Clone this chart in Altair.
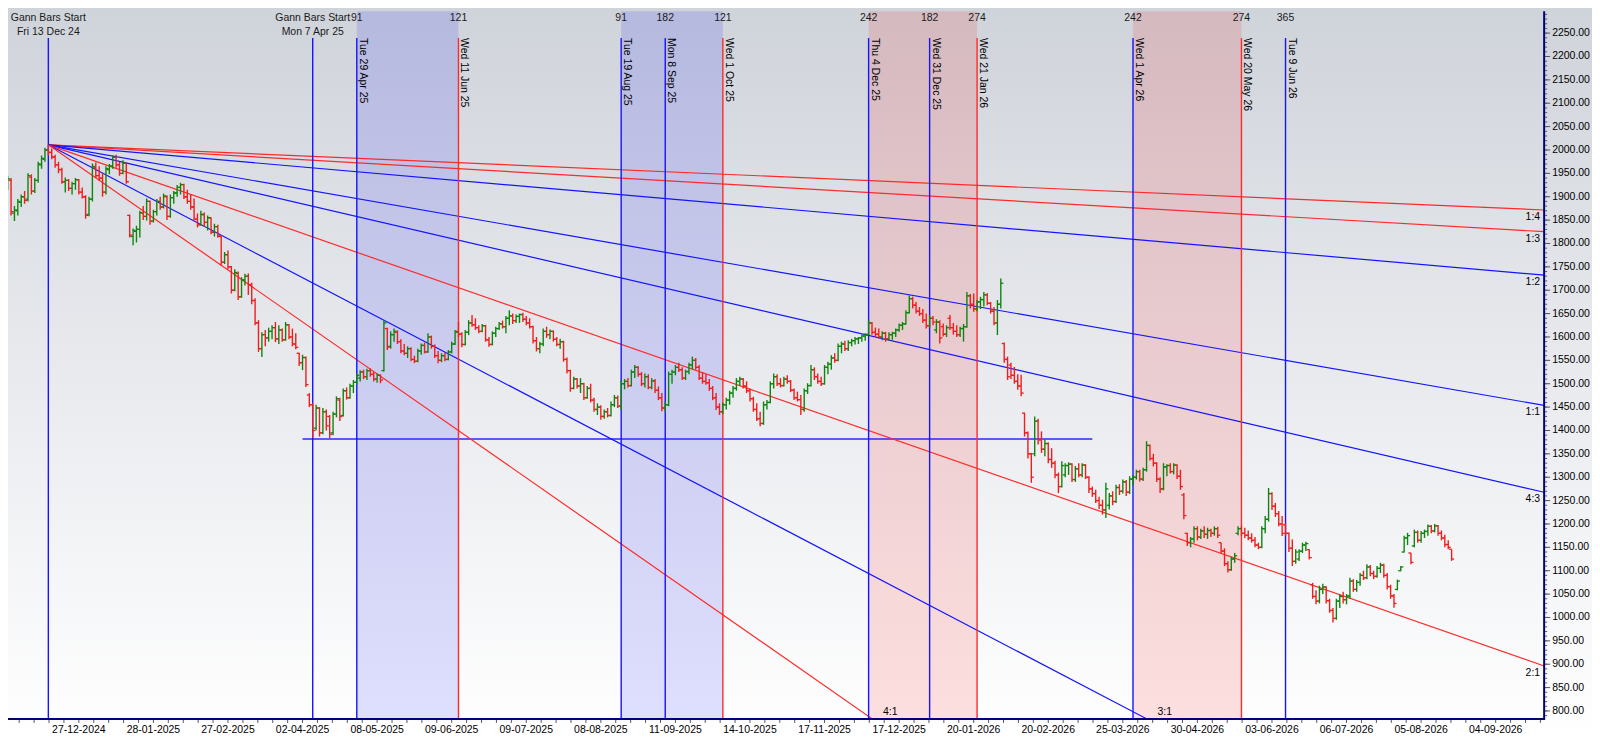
import altair as alt
import pandas as pd

# ---------------- layout ----------------
W, H = 1541, 710
X_DOMAIN = [-11.9, 441.3]      # trading-bar index (0 = Fri 13 Dec 2024)
Y_DOMAIN = [783, 2297]

# ---------------- price bars (daily OHLC, bar index from first_bar) ----------------
first_bar = -14
opens = [
    1905, 1895, 1925, 1935, 1865, 1870, 1888, 1900, 1895, 1942, 1912, 1935, 1968, 1980, 2000,
    1995, 1985, 1968, 1958, 1932, 1935, 1918, 1928, 1936, 1910,
    1900, 1862, 1895, 1962, 1945, 1940, 1910, 1958, 1965, 1984,
    1968, 1950, 1972, 1860, 1815, 1826, 1830, 1865, 1858, 1890,
    1848, 1868, 1890, 1878, 1900, 1858, 1898, 1908, 1920, 1926,
    1900, 1890, 1878, 1852, 1840, 1862, 1845, 1855, 1824, 1836,
    1815, 1760, 1776, 1750, 1700, 1736, 1686, 1722, 1730, 1712,
    1678, 1630, 1575, 1605, 1598, 1612, 1620, 1596, 1615, 1594,
    1626, 1600, 1585, 1565, 1545, 1556, 1476, 1455, 1405, 1448,
    1395, 1440, 1430, 1395, 1435, 1465, 1432, 1485, 1470, 1495,
    1503, 1512, 1525, 1515, 1528, 1520, 1510, 1518, 1528, 1618,
    1580, 1605, 1610, 1590, 1570, 1565, 1575, 1552, 1548, 1570,
    1582, 1568, 1600, 1580, 1560, 1550, 1560, 1552, 1568, 1585,
    1612, 1606, 1584, 1610, 1630, 1626, 1620, 1612, 1624, 1594,
    1584, 1608, 1618, 1628, 1622, 1640, 1645, 1635, 1644, 1648,
    1638, 1630, 1622, 1592, 1575, 1585, 1612, 1605, 1612, 1595,
    1584, 1590, 1552, 1528, 1490, 1510, 1495, 1500, 1470, 1490,
    1465, 1445, 1450, 1430, 1440, 1432, 1455, 1470, 1452, 1500,
    1505, 1496, 1525, 1535, 1520, 1500, 1515, 1492, 1506, 1486,
    1470, 1448, 1455, 1520, 1525, 1535, 1530, 1512, 1526, 1540,
    1550, 1535, 1512, 1505, 1502, 1490, 1470, 1450, 1440, 1455,
    1465, 1480, 1490, 1505, 1510, 1495, 1485, 1468, 1445, 1425,
    1415, 1455, 1460, 1500, 1515, 1500, 1496, 1510, 1505, 1486,
    1470, 1466, 1445, 1485, 1496, 1530, 1515, 1505, 1500, 1535,
    1542, 1555, 1550, 1580, 1585, 1575, 1588, 1592, 1596, 1598,
    1602, 1606, 1630, 1610, 1606, 1600, 1608, 1596, 1605, 1608,
    1615, 1625, 1628, 1652, 1682, 1668, 1655, 1650, 1636, 1624,
    1640, 1615, 1632, 1622, 1606, 1640, 1620, 1612, 1605, 1618,
    1622, 1688, 1670, 1660, 1675, 1680, 1690, 1672, 1655, 1630,
    1670, 1586, 1552, 1540, 1518, 1505, 1495, 1437, 1395, 1350,
    1350, 1420, 1380, 1360, 1372, 1338, 1330, 1305, 1280, 1305,
    1325, 1328, 1295, 1318, 1305, 1326, 1300, 1275, 1265, 1250,
    1240, 1230, 1240, 1260, 1248, 1278, 1270, 1290, 1268, 1296,
    1300, 1312, 1296, 1316, 1368, 1340, 1330, 1296, 1275, 1322,
    1325, 1312, 1326, 1302, 1262, 1180, 1160, 1168, 1190, 1172,
    1185, 1178, 1186, 1180, 1190, 1160, 1142, 1115, 1102, 1125,
    1180, 1190, 1180, 1176, 1170, 1165, 1155, 1150, 1190, 1210,
    1265, 1238, 1222, 1200, 1198, 1180, 1148, 1120, 1125, 1142,
    1155, 1145, 1070, 1045, 1035, 1060, 1065, 1036, 1015, 998,
    1035, 1045, 1038, 1046, 1078, 1060, 1075, 1090, 1085, 1108,
    1094, 1088, 1105, 1112, 1090, 1066, 1046, 1060, 1100, 1140,
    1170, 1138, 1153, 1182, 1165, 1180, 1184, 1195, 1185, 1196,
    1180, 1170, 1156, 1146,
]
highs = [
    1912, 1935, 1945, 1940, 1880, 1895, 1905, 1912, 1950, 1948, 1940, 1975, 1988, 2005, 2011,
    2003, 1990, 1975, 1962, 1941, 1938, 1932, 1940, 1938, 1920,
    1903, 1900, 1971, 1973, 1965, 1950, 1965, 1970, 1988, 1990,
    1975, 1978, 1973, 1862, 1832, 1838, 1870, 1880, 1896, 1892,
    1872, 1895, 1900, 1907, 1903, 1905, 1912, 1925, 1930, 1928,
    1915, 1905, 1896, 1864, 1870, 1866, 1860, 1856, 1842, 1840,
    1818, 1782, 1785, 1752, 1745, 1740, 1728, 1735, 1736, 1716,
    1683, 1636, 1610, 1615, 1620, 1625, 1632, 1625, 1618, 1632,
    1628, 1618, 1608, 1566, 1562, 1558, 1480, 1459, 1455, 1450,
    1448, 1445, 1433, 1440, 1473, 1470, 1490, 1492, 1500, 1508,
    1522, 1529, 1530, 1532, 1533, 1525, 1522, 1520, 1636, 1620,
    1612, 1618, 1614, 1595, 1585, 1580, 1578, 1560, 1575, 1586,
    1588, 1608, 1603, 1584, 1570, 1565, 1566, 1572, 1590, 1615,
    1632, 1610, 1615, 1636, 1647, 1640, 1625, 1628, 1626, 1600,
    1612, 1622, 1632, 1635, 1645, 1657, 1650, 1648, 1650, 1652,
    1645, 1640, 1624, 1600, 1590, 1618, 1622, 1616, 1614, 1600,
    1596, 1592, 1556, 1530, 1515, 1512, 1512, 1502, 1495, 1500,
    1470, 1458, 1454, 1445, 1448, 1462, 1476, 1475, 1508, 1510,
    1512, 1530, 1540, 1538, 1525, 1522, 1520, 1512, 1510, 1494,
    1480, 1462, 1526, 1530, 1540, 1545, 1535, 1530, 1545, 1558,
    1555, 1540, 1525, 1520, 1510, 1495, 1480, 1458, 1460, 1470,
    1485, 1495, 1512, 1515, 1512, 1505, 1490, 1472, 1458, 1440,
    1462, 1465, 1505, 1522, 1520, 1512, 1515, 1518, 1508, 1490,
    1483, 1476, 1490, 1501, 1540, 1535, 1522, 1515, 1540, 1547,
    1561, 1565, 1586, 1590, 1592, 1593, 1596, 1600, 1600, 1605,
    1608, 1636, 1632, 1620, 1618, 1612, 1611, 1610, 1611, 1618,
    1629, 1632, 1657, 1689, 1686, 1675, 1664, 1660, 1650, 1647,
    1645, 1638, 1636, 1629, 1625, 1647, 1630, 1625, 1622, 1628,
    1696, 1692, 1693, 1679, 1686, 1696, 1694, 1675, 1664, 1679,
    1725, 1588, 1558, 1545, 1536, 1520, 1519, 1438, 1398, 1352,
    1430, 1425, 1398, 1380, 1375, 1362, 1335, 1310, 1334, 1330,
    1332, 1330, 1324, 1330, 1330, 1328, 1302, 1280, 1273, 1258,
    1252, 1288, 1266, 1270, 1284, 1285, 1295, 1294, 1302, 1305,
    1316, 1316, 1320, 1377, 1370, 1350, 1332, 1300, 1330, 1328,
    1330, 1330, 1328, 1316, 1266, 1181, 1172, 1195, 1195, 1190,
    1195, 1192, 1190, 1195, 1194, 1160, 1148, 1120, 1130, 1138,
    1195, 1196, 1192, 1186, 1180, 1172, 1160, 1195, 1217, 1277,
    1268, 1245, 1228, 1217, 1202, 1182, 1167, 1146, 1146, 1160,
    1162, 1146, 1074, 1058, 1068, 1072, 1067, 1040, 1020, 1040,
    1050, 1055, 1050, 1085, 1082, 1080, 1095, 1100, 1114, 1112,
    1100, 1110, 1117, 1115, 1095, 1070, 1050, 1081, 1110, 1175,
    1181, 1138, 1188, 1186, 1185, 1188, 1199, 1198, 1200, 1198,
    1186, 1177, 1165, 1146,
]
lows = [
    1888, 1890, 1915, 1860, 1848, 1860, 1878, 1885, 1890, 1905, 1908, 1930, 1960, 1975, 1988,
    1980, 1962, 1950, 1928, 1909, 1912, 1905, 1915, 1905, 1896,
    1853, 1858, 1890, 1940, 1934, 1900, 1905, 1948, 1960, 1962,
    1945, 1948, 1928, 1813, 1796, 1802, 1813, 1850, 1849, 1840,
    1845, 1860, 1872, 1875, 1850, 1855, 1885, 1900, 1905, 1895,
    1885, 1872, 1849, 1834, 1838, 1835, 1828, 1820, 1815, 1812,
    1753, 1756, 1745, 1693, 1698, 1679, 1684, 1710, 1690, 1670,
    1625, 1568, 1557, 1580, 1590, 1595, 1589, 1585, 1590, 1592,
    1595, 1580, 1574, 1538, 1529, 1493, 1450, 1384, 1400, 1387,
    1392, 1400, 1384, 1390, 1428, 1420, 1430, 1466, 1468, 1480,
    1498, 1505, 1510, 1508, 1515, 1505, 1502, 1501, 1526, 1572,
    1575, 1590, 1585, 1565, 1561, 1555, 1548, 1544, 1546, 1562,
    1565, 1566, 1575, 1555, 1544, 1546, 1548, 1550, 1565, 1583,
    1600, 1578, 1582, 1604, 1622, 1615, 1608, 1610, 1590, 1579,
    1582, 1600, 1615, 1618, 1608, 1625, 1628, 1630, 1630, 1632,
    1625, 1618, 1586, 1569, 1565, 1580, 1598, 1595, 1590, 1580,
    1575, 1547, 1522, 1483, 1488, 1490, 1480, 1465, 1468, 1460,
    1440, 1433, 1423, 1425, 1428, 1430, 1450, 1448, 1444, 1488,
    1492, 1494, 1512, 1515, 1495, 1492, 1488, 1488, 1480, 1465,
    1441, 1440, 1452, 1500, 1518, 1525, 1508, 1508, 1520, 1530,
    1530, 1508, 1500, 1498, 1485, 1465, 1444, 1433, 1435, 1445,
    1455, 1470, 1485, 1495, 1490, 1480, 1462, 1440, 1420, 1409,
    1412, 1445, 1458, 1490, 1495, 1492, 1494, 1500, 1482, 1465,
    1462, 1433, 1440, 1478, 1494, 1508, 1500, 1495, 1498, 1520,
    1530, 1545, 1548, 1565, 1570, 1570, 1580, 1584, 1585, 1590,
    1592, 1604, 1605, 1600, 1596, 1593, 1590, 1592, 1594, 1600,
    1611, 1615, 1626, 1650, 1661, 1650, 1645, 1630, 1618, 1620,
    1625, 1608, 1586, 1601, 1600, 1615, 1605, 1600, 1600, 1590,
    1620, 1661, 1654, 1655, 1660, 1665, 1668, 1650, 1625, 1604,
    1661, 1545, 1508, 1510, 1500, 1487, 1473, 1387, 1340, 1288,
    1345, 1370, 1352, 1345, 1330, 1320, 1298, 1266, 1278, 1300,
    1305, 1290, 1290, 1300, 1300, 1296, 1266, 1258, 1245, 1232,
    1220, 1213, 1231, 1240, 1245, 1262, 1265, 1260, 1264, 1282,
    1295, 1291, 1292, 1312, 1336, 1323, 1290, 1266, 1272, 1302,
    1308, 1306, 1296, 1273, 1210, 1153, 1150, 1160, 1165, 1168,
    1170, 1168, 1172, 1175, 1170, 1138, 1110, 1096, 1100, 1117,
    1176, 1174, 1170, 1165, 1160, 1150, 1146, 1148, 1180, 1205,
    1230, 1215, 1195, 1174, 1174, 1140, 1110, 1115, 1121, 1138,
    1142, 1124, 1040, 1028, 1030, 1050, 1030, 1010, 989, 995,
    1020, 1030, 1028, 1040, 1055, 1055, 1068, 1080, 1082, 1088,
    1082, 1085, 1095, 1085, 1060, 1040, 1021, 1058, 1099, 1139,
    1155, 1114, 1150, 1160, 1160, 1170, 1175, 1180, 1182, 1175,
    1165, 1150, 1146, 1121,
]
closes = [
    1892, 1928, 1938, 1868, 1872, 1890, 1900, 1892, 1945, 1912, 1935, 1970, 1982, 2000, 1995,
    1985, 1968, 1958, 1932, 1935, 1918, 1928, 1936, 1910, 1900,
    1860, 1895, 1965, 1945, 1940, 1910, 1960, 1966, 1984, 1968,
    1950, 1972, 1932, 1818, 1828, 1830, 1866, 1858, 1890, 1848,
    1868, 1890, 1878, 1902, 1858, 1898, 1908, 1920, 1926, 1900,
    1890, 1878, 1852, 1840, 1862, 1845, 1855, 1824, 1836, 1816,
    1760, 1776, 1750, 1700, 1738, 1686, 1722, 1730, 1712, 1678,
    1630, 1575, 1605, 1598, 1612, 1620, 1596, 1615, 1594, 1626,
    1600, 1585, 1578, 1545, 1556, 1498, 1455, 1400, 1448, 1395,
    1440, 1410, 1392, 1435, 1468, 1430, 1485, 1470, 1495, 1503,
    1518, 1525, 1515, 1528, 1520, 1510, 1518, 1508, 1630, 1578,
    1605, 1612, 1590, 1570, 1565, 1575, 1552, 1548, 1570, 1582,
    1568, 1600, 1580, 1560, 1550, 1560, 1552, 1568, 1585, 1610,
    1606, 1584, 1610, 1630, 1626, 1620, 1612, 1624, 1594, 1584,
    1608, 1618, 1628, 1622, 1640, 1645, 1635, 1644, 1648, 1638,
    1630, 1622, 1592, 1575, 1585, 1612, 1605, 1612, 1595, 1584,
    1590, 1552, 1528, 1490, 1510, 1495, 1500, 1470, 1490, 1465,
    1445, 1450, 1430, 1440, 1432, 1455, 1470, 1452, 1500, 1505,
    1496, 1525, 1535, 1520, 1500, 1515, 1492, 1506, 1486, 1470,
    1448, 1455, 1520, 1525, 1535, 1530, 1512, 1526, 1540, 1550,
    1535, 1512, 1505, 1502, 1490, 1470, 1450, 1440, 1455, 1465,
    1480, 1490, 1505, 1510, 1495, 1485, 1468, 1445, 1425, 1415,
    1455, 1460, 1500, 1515, 1500, 1496, 1510, 1505, 1486, 1470,
    1466, 1445, 1485, 1496, 1530, 1515, 1505, 1500, 1535, 1542,
    1555, 1550, 1580, 1585, 1575, 1588, 1592, 1596, 1598, 1602,
    1604, 1630, 1610, 1606, 1600, 1608, 1596, 1605, 1608, 1615,
    1625, 1628, 1652, 1682, 1668, 1655, 1650, 1636, 1624, 1640,
    1632, 1632, 1598, 1606, 1620, 1620, 1612, 1605, 1618, 1622,
    1688, 1670, 1660, 1675, 1680, 1690, 1672, 1655, 1630, 1670,
    1715, 1552, 1515, 1518, 1505, 1495, 1480, 1395, 1350, 1300,
    1420, 1380, 1360, 1372, 1338, 1330, 1305, 1280, 1325, 1325,
    1328, 1295, 1318, 1305, 1326, 1300, 1275, 1265, 1250, 1240,
    1230, 1275, 1260, 1248, 1278, 1270, 1290, 1268, 1296, 1300,
    1312, 1296, 1316, 1368, 1340, 1330, 1296, 1275, 1322, 1325,
    1312, 1326, 1302, 1280, 1218, 1160, 1168, 1190, 1172, 1185,
    1178, 1186, 1180, 1190, 1176, 1142, 1115, 1102, 1125, 1132,
    1190, 1180, 1176, 1170, 1165, 1155, 1150, 1190, 1210, 1265,
    1238, 1222, 1200, 1180, 1180, 1148, 1120, 1140, 1142, 1155,
    1158, 1128, 1045, 1035, 1060, 1065, 1036, 1015, 998, 1035,
    1045, 1038, 1046, 1078, 1060, 1075, 1090, 1085, 1108, 1094,
    1088, 1105, 1112, 1090, 1066, 1046, 1030, 1078, 1108, 1170,
    1175, 1118, 1182, 1165, 1180, 1184, 1195, 1185, 1196, 1180,
    1170, 1156, 1150, 1125,
]

# ---------------- x-axis date labels (bar index -> label) ----------------
tick_label_bars = [9, 31, 53, 75, 97, 119, 141, 163, 185, 207,
                   229, 251, 273, 295, 317, 339, 361, 383, 405, 427]
tick_labels = ["27-12-2024", "28-01-2025", "27-02-2025", "02-04-2025", "08-05-2025",
               "09-06-2025", "09-07-2025", "08-08-2025", "11-09-2025", "14-10-2025",
               "17-11-2025", "17-12-2025", "20-01-2026", "20-02-2026", "25-03-2026",
               "30-04-2026", "03-06-2026", "06-07-2026", "05-08-2026", "04-09-2026"]
y_tick_values = list(range(800, 2251, 50))

# ---------------- Gann time counts ----------------
gann_start_bars = [0, 78]
gann_start_dates = ["Fri 13 Dec 24", "Mon 7 Apr 25"]
line_bars = [91, 121, 169, 182, 199, 242, 260, 274, 320, 352, 365]
line_counts = ["91", "121", "91", "182", "121", "242", "182", "274", "242", "274", "365"]
line_dates = ["Tue 29 Apr 25", "Wed 11 Jun 25", "Tue 19 Aug 25", "Mon 8 Sep 25",
              "Wed 1 Oct 25", "Thu 4 Dec 25", "Wed 31 Dec 25", "Wed 21 Jan 26",
              "Wed 1 Apr 26", "Wed 20 May 26", "Tue 9 Jun 26"]
BLUE, RED = "#1414ff", "#ff2a2a"
line_colors = [BLUE, RED, BLUE, BLUE, RED, BLUE, BLUE, RED, BLUE, RED, BLUE]
zone_starts = [91, 169, 242, 320]
zone_ends = [121, 199, 274, 352]
zone_colors = ["#0000ff", "#0000ff", "#ff0000", "#ff0000"]

# ---------------- Gann fan ----------------
fan_names = ["1:4", "1:3", "1:2", "1:1", "4:3", "2:1", "3:1", "4:1"]
fan_ratios = [0.25, 1 / 3, 0.5, 1.0, 4 / 3, 2.0, 3.0, 4.0]
fan_colors = [RED, RED, BLUE, BLUE, BLUE, RED, BLUE, RED]
pivot_bar, pivot_price, fan_unit = 0, 2011, 1.263
hline_bars = [75, 308]
hline_price = 1382

# ---------------- data frames ----------------
n = len(closes)
assert len(opens) == len(highs) == len(lows) == n, (len(opens), len(highs), len(lows), n)
df = pd.DataFrame({
    "bar": list(range(first_bar, first_bar + n)),
    "open": opens, "high": highs, "low": lows, "close": closes,
})
df["dir"] = ["up" if c >= o else "down" for o, c in zip(df["open"], df["close"])]
df["xl"] = df["bar"] - 0.75
df["xr"] = df["bar"] + 0.75

lines_df = pd.DataFrame({"bar": line_bars, "count": line_counts, "date": line_dates,
                         "color": line_colors})
starts_df = pd.DataFrame({"bar": gann_start_bars, "date": gann_start_dates,
                          "title": ["Gann Bars Start"] * len(gann_start_bars)})
zones_df = pd.DataFrame({"start": zone_starts, "end": zone_ends, "color": zone_colors})
hline_df = pd.DataFrame({"b0": [hline_bars[0]], "b1": [hline_bars[1]], "p": [hline_price]})
xlab_df = pd.DataFrame({"bar": tick_label_bars, "label": tick_labels})
ylab_df = pd.DataFrame({"v": y_tick_values,
                        "label": [f"{v:.2f}" for v in y_tick_values]})

fan_rows = []
for name, r, c in zip(fan_names, fan_ratios, fan_colors):
    s = r * fan_unit
    end_b = X_DOMAIN[1]
    end_p = pivot_price - s * (end_b - pivot_bar)
    edge = "right"
    if end_p < Y_DOMAIN[0]:
        end_p = Y_DOMAIN[0]
        end_b = pivot_bar + (pivot_price - Y_DOMAIN[0]) / s
        edge = "bottom"
    fan_rows.append({"name": name, "b0": pivot_bar, "p0": pivot_price,
                     "b1": end_b, "p1": end_p, "color": c, "edge": edge})
fan_df = pd.DataFrame(fan_rows)

xs = alt.Scale(domain=X_DOMAIN, nice=False, zero=False)
ys = alt.Scale(domain=Y_DOMAIN, nice=False, zero=False)
FONT = "Liberation Sans"
FS = 10.5
TXT = "#1a1a1a"
AXC = "#00007a"

# axis helpers (ticks / domains are drawn as marks so they sit above the background)
x_minor = [round(9 + 4.4 * k, 1) for k in range(-4, 99)]
xt_df = pd.DataFrame({"t": x_minor})
ymin_df = pd.DataFrame({"v": list(range(790, 2300, 10))})

one = pd.DataFrame({"k": [0]})

bg = alt.Chart(one).mark_rect(
    color=alt.Gradient(gradient="linear",
                       stops=[alt.GradientStop(color="#cfd3da", offset=0),
                              alt.GradientStop(color="#e6e8ec", offset=0.45),
                              alt.GradientStop(color="#ffffff", offset=1)],
                       x1=0, x2=0, y1=0, y2=1)
).encode(x=alt.value(-10), x2=alt.value(W + 60), y=alt.value(-4), y2=alt.value(H + 20))

zones = alt.Chart(zones_df).mark_rect(opacity=0.12).encode(
    x=alt.X("start:Q", scale=xs, axis=None), x2="end:Q",
    y=alt.value(0), y2=alt.value(H),
    color=alt.Color("color:N", scale=None))

hline = alt.Chart(hline_df).mark_rule(color="#2a2aff", strokeWidth=1.5).encode(
    x=alt.X("b0:Q", scale=xs, axis=None), x2="b1:Q",
    y=alt.Y("p:Q", scale=ys, axis=None))

fans = alt.Chart(fan_df).mark_rule(strokeWidth=1.2, clip=True).encode(
    x=alt.X("b0:Q", scale=xs, axis=None), x2="b1:Q",
    y=alt.Y("p0:Q", scale=ys, axis=None), y2="p1:Q",
    color=alt.Color("color:N", scale=None))

vlines = alt.Chart(lines_df).mark_rule(strokeWidth=1.4).encode(
    x=alt.X("bar:Q", scale=xs, axis=None), y=alt.value(27), y2=alt.value(H),
    color=alt.Color("color:N", scale=None))

slines = alt.Chart(starts_df).mark_rule(strokeWidth=1.4, color=BLUE).encode(
    x=alt.X("bar:Q", scale=xs, axis=None), y=alt.value(27), y2=alt.value(H))

dir_color = alt.Color("dir:N", scale=alt.Scale(domain=["up", "down"],
                                               range=["#0f850f", "#f31c1c"]), legend=None)
base = alt.Chart(df)
hl = base.mark_rule(strokeWidth=1.4, clip=True).encode(
    x=alt.X("bar:Q", scale=xs, axis=None),
    y=alt.Y("low:Q", scale=ys, axis=None), y2="high:Q", color=dir_color)
op = base.mark_rule(strokeWidth=1.3, clip=True).encode(
    x=alt.X("xl:Q", scale=xs, axis=None), x2="bar:Q",
    y=alt.Y("open:Q", scale=ys, axis=None), color=dir_color)
cl = base.mark_rule(strokeWidth=1.3, clip=True).encode(
    x=alt.X("bar:Q", scale=xs, axis=None), x2="xr:Q",
    y=alt.Y("close:Q", scale=ys, axis=None), color=dir_color)

count_txt = alt.Chart(lines_df).mark_text(font=FONT, fontSize=FS, color=TXT,
                                          align="center", baseline="middle").encode(
    x=alt.X("bar:Q", scale=xs, axis=None), y=alt.value(7), text="count:N")
start_t1 = alt.Chart(starts_df).mark_text(font=FONT, fontSize=FS, color=TXT,
                                          align="center", baseline="middle").encode(
    x=alt.X("bar:Q", scale=xs, axis=None), y=alt.value(7), text="title:N")
start_t2 = alt.Chart(starts_df).mark_text(font=FONT, fontSize=FS, color=TXT,
                                          align="center", baseline="middle").encode(
    x=alt.X("bar:Q", scale=xs, axis=None), y=alt.value(21), text="date:N")
date_txt = alt.Chart(lines_df).mark_text(font=FONT, fontSize=FS, color="#000",
                                         angle=90, align="left", baseline="bottom",
                                         dy=-1).encode(
    x=alt.X("bar:Q", scale=xs, axis=None), y=alt.value(27), text="date:N")

fan_right = alt.Chart(fan_df).transform_filter(alt.datum.edge == "right").mark_text(
    font=FONT, fontSize=FS, color="#000", align="right", baseline="middle", dx=-4, dy=7
).encode(x=alt.X("b1:Q", scale=xs, axis=None), y=alt.Y("p1:Q", scale=ys, axis=None),
         text="name:N")
fan_bottom = alt.Chart(fan_df).transform_filter(alt.datum.edge == "bottom").mark_text(
    font=FONT, fontSize=FS, color="#000", align="center", baseline="middle", dx=18, dy=-7
).encode(x=alt.X("b1:Q", scale=xs, axis=None), y=alt.Y("p1:Q", scale=ys, axis=None),
         text="name:N")

# ---- axes drawn as marks ----
x_dom = alt.Chart(one).mark_rule(color=AXC, strokeWidth=2).encode(
    x=alt.value(0), x2=alt.value(W + 1), y=alt.value(H), y2=alt.value(H))
y_dom = alt.Chart(one).mark_rule(color=AXC, strokeWidth=2).encode(
    x=alt.value(W), x2=alt.value(W), y=alt.value(0), y2=alt.value(H))
x_ticks = alt.Chart(xt_df).mark_rule(color="#555", strokeWidth=1).encode(
    x=alt.X("t:Q", scale=xs, axis=None), y=alt.value(H + 1), y2=alt.value(H + 4))
x_labels = alt.Chart(xlab_df).mark_text(font=FONT, fontSize=FS, color="#000",
                                        align="center", baseline="top").encode(
    x=alt.X("bar:Q", scale=xs, axis=None), y=alt.value(H + 6), text="label:N")
y_minor = alt.Chart(ymin_df).mark_rule(color="#555", strokeWidth=1).encode(
    x=alt.value(W + 1), x2=alt.value(W + 3), y=alt.Y("v:Q", scale=ys, axis=None))
y_major = alt.Chart(ylab_df).mark_rule(color="#555", strokeWidth=1).encode(
    x=alt.value(W + 1), x2=alt.value(W + 6), y=alt.Y("v:Q", scale=ys, axis=None))
y_labels = alt.Chart(ylab_df).mark_text(font=FONT, fontSize=FS, color="#000",
                                        align="left", baseline="middle", dx=8).encode(
    x=alt.value(W), y=alt.Y("v:Q", scale=ys, axis=None), text="label:N")

chart = alt.layer(
    bg, zones, hline, fans, vlines, slines, hl, op, cl,
    count_txt, start_t1, start_t2, date_txt, fan_right, fan_bottom,
    x_dom, y_dom, x_ticks, x_labels, y_minor, y_major, y_labels
).properties(
    width=W, height=H,
    autosize=alt.AutoSizeParams(type="none"),
    padding={"left": 0, "top": 2, "right": 48, "bottom": 17},
).configure_view(strokeWidth=0)

chart.save("out.html", embed_options={"renderer": "svg", "actions": False})
